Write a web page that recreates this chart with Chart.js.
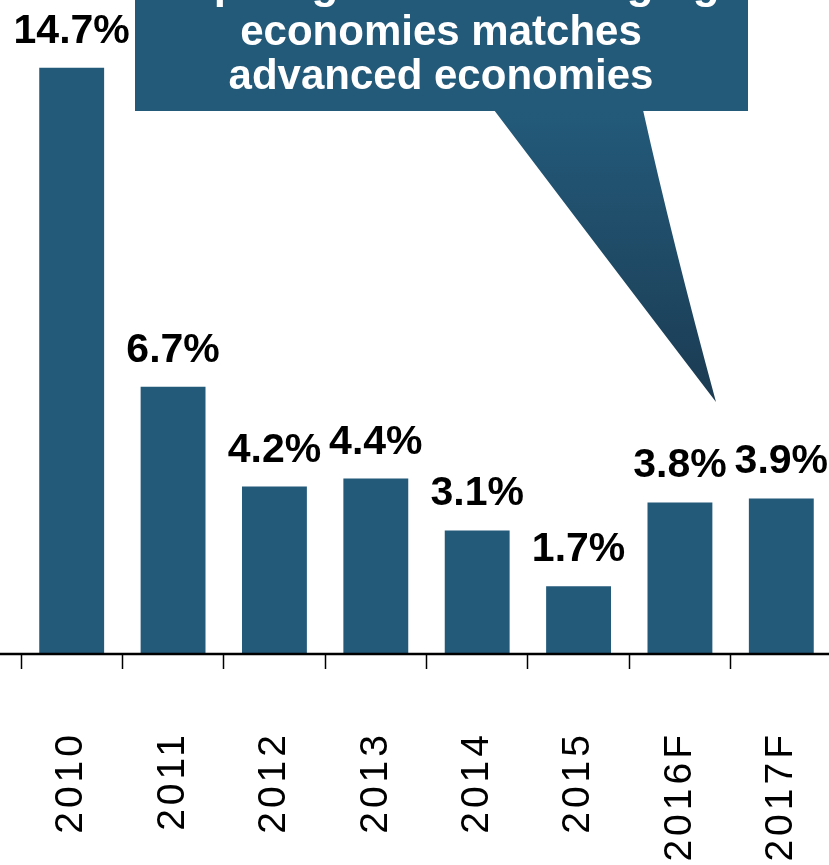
<!DOCTYPE html>
<html>
<head>
<meta charset="utf-8">
<script src="https://cdn.jsdelivr.net/npm/chart.js@4"></script>
<style>
  html, body { margin: 0; padding: 0; background: #fff; overflow: hidden; }
  #wrap { position: relative; width: 838px; height: 865px; }
</style>
</head>
<body>
<div id="wrap"><canvas id="growthChart"></canvas></div>
<script>
  const years = ['2010', '2011', '2012', '2013', '2014', '2015', '2016F', '2017F'];
  const growthPct = [14.7, 6.7, 4.2, 4.4, 3.1, 1.7, 3.8, 3.9];
  const calloutLines = ['Import growth in emerging', 'economies matches', 'advanced economies'];

  const barBlue = '#235a7a';
  const fontFamily = '"Liberation Sans", Arial, Helvetica, sans-serif';

  // wider spacing on the year labels, reset before the bars are drawn
  const tickSpacing = {
    id: 'tickSpacing',
    beforeDraw(chart) { chart.ctx.letterSpacing = '4px'; },
    beforeDatasetsDraw(chart) { chart.ctx.letterSpacing = '0px'; }
  };

  // baseline across the whole width + value labels above the bars
  const barLabels = {
    id: 'barLabels',
    afterDatasetsDraw(chart) {
      const ctx = chart.ctx;
      const yBase = chart.chartArea.bottom;
      ctx.save();
      ctx.strokeStyle = '#000';
      ctx.lineWidth = 2.5;
      ctx.beginPath();
      ctx.moveTo(0, yBase);
      ctx.lineTo(chart.width, yBase);
      ctx.stroke();

      ctx.fillStyle = '#000';
      ctx.font = 'bold 41px ' + fontFamily;
      ctx.textAlign = 'center';
      ctx.textBaseline = 'alphabetic';
      chart.getDatasetMeta(0).data.forEach((bar, i) => {
        ctx.fillText(growthPct[i].toFixed(1) + '%', bar.x, bar.y - 25);
      });
      ctx.restore();
    }
  };

  // speech bubble at the top
  const callout = {
    id: 'callout',
    afterDraw(chart) {
      const ctx = chart.ctx;
      ctx.save();
      ctx.fillStyle = '#235a7a';
      ctx.fillRect(135, -10, 613, 121);

      const grad = ctx.createLinearGradient(0, 111, 0, 402);
      grad.addColorStop(0, '#235a7a');
      grad.addColorStop(1, '#1b3b52');
      ctx.fillStyle = grad;
      ctx.beginPath();
      ctx.moveTo(494, 110);
      ctx.lineTo(643, 110);
      ctx.quadraticCurveTo(672, 240, 716, 402);
      ctx.quadraticCurveTo(600, 250, 494, 110);
      ctx.closePath();
      ctx.fill();

      ctx.fillStyle = '#fff';
      ctx.textAlign = 'center';
      ctx.textBaseline = 'alphabetic';
      ctx.font = 'bold 44px ' + fontFamily;
      ctx.fillText(calloutLines[0], 441, -2);
      ctx.font = 'bold 42px ' + fontFamily;
      ctx.fillText(calloutLines[1], 441, 45);
      ctx.fillText(calloutLines[2], 441, 89);
      ctx.restore();
    }
  };

  new Chart(document.getElementById('growthChart'), {
    type: 'bar',
    data: {
      labels: years,
      datasets: [{
        data: growthPct,
        backgroundColor: barBlue,
        borderWidth: 0,
        categoryPercentage: 1,
        barPercentage: 0.64
      }]
    },
    options: {
      responsive: true,
      maintainAspectRatio: false,
      animation: false,
      layout: { padding: { left: 21, right: 6, top: 0, bottom: 0 } },
      plugins: {
        legend: { display: false },
        tooltip: { enabled: false }
      },
      scales: {
        x: {
          afterFit: (scale) => {
            scale.height = 211;
            scale.paddingLeft = 0;
            scale.paddingRight = 0;
          },
          border: { display: false },
          grid: {
            offset: true,
            drawOnChartArea: false,
            drawTicks: true,
            tickLength: 15,
            tickWidth: 1.5,
            tickColor: '#000'
          },
          ticks: {
            color: '#000',
            font: { family: fontFamily, size: 39 },
            minRotation: 90,
            maxRotation: 90,
            padding: 62,
            autoSkip: false
          }
        },
        y: {
          display: false,
          min: 0,
          max: 16.4
        }
      }
    },
    plugins: [tickSpacing, barLabels, callout]
  });
</script>
</body>
</html>
